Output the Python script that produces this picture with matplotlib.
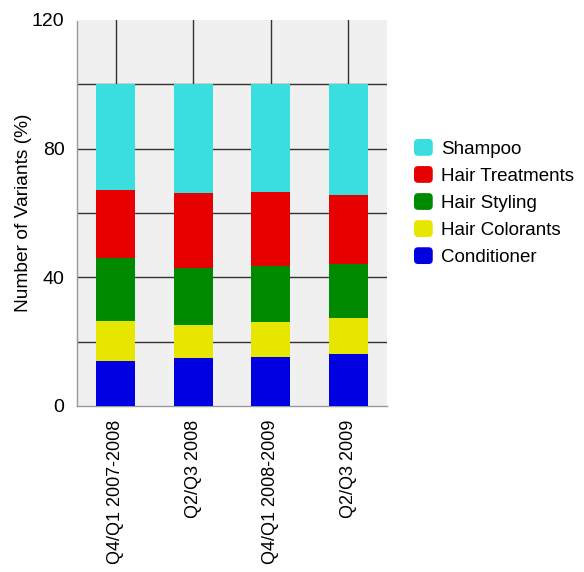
import matplotlib
matplotlib.use("Agg")
import matplotlib.pyplot as plt
from matplotlib.patches import FancyBboxPatch, Patch
from matplotlib.legend_handler import HandlerPatch
import numpy as np

plt.rcParams['font.family'] = ['Liberation Sans', 'DejaVu Sans']

periods = ["Q4/Q1 2007-2008", "Q2/Q3 2008", "Q4/Q1 2008-2009", "Q2/Q3 2009"]

# Share of variants per category (%), stacked bottom to top
conditioner = [14.0, 15.0, 15.1, 16.2]
hair_colorants = [12.4, 10.2, 10.9, 11.2]
hair_styling = [19.7, 17.6, 17.6, 16.7]
hair_treatments = [21.0, 23.3, 23.0, 21.5]
shampoo = [32.9, 33.9, 33.4, 34.4]

series = [
    ("Conditioner", conditioner, "#0000e0"),
    ("Hair Colorants", hair_colorants, "#e6e600"),
    ("Hair Styling", hair_styling, "#008a00"),
    ("Hair Treatments", hair_treatments, "#e60000"),
    ("Shampoo", shampoo, "#3adede"),
]

fig = plt.figure(figsize=(5.84, 5.72), dpi=100)
ax = fig.add_axes([77 / 584, 1 - 406 / 572, 310 / 584, 386 / 572])
ax.set_facecolor("#f0f0f0")

x = np.arange(len(periods))
bottom = np.zeros(len(periods))
for name, vals, color in series:
    ax.bar(x, vals, width=0.5, bottom=bottom, color=color, label=name,
           linewidth=0, zorder=3)
    bottom += np.array(vals)

ax.set_xlim(-0.5, len(periods) - 0.5)
ax.set_ylim(0, 120)
ax.set_yticks([0, 40, 80, 120])
ax.set_yticks([20, 60, 100], minor=True)
ax.set_xticks(x)
ax.set_xticklabels(periods, rotation=90, fontsize=13)
ax.tick_params(axis="y", which="both", length=0, pad=9, labelsize=14)
ax.tick_params(axis="x", length=0, pad=10)

ax.set_axisbelow(True)
ax.yaxis.grid(True, which="both", color="#333333", linewidth=1.0)
ax.xaxis.grid(True, color="#333333", linewidth=1.0)
ax.get_ygridlines()[-1].set_visible(False)
ax.get_ygridlines()[0].set_visible(False)

for side in ("top", "right"):
    ax.spines[side].set_visible(False)
ax.spines["left"].set_color("#999999")
ax.spines["left"].set_linestyle((0, (1, 1)))
ax.spines["left"].set_linewidth(1.0)
ax.spines["bottom"].set_color("#999999")
ax.spines["bottom"].set_linewidth(1.0)

ax.set_ylabel("Number of Variants (%)", fontsize=13.8, labelpad=0)


class RoundedHandler(HandlerPatch):
    def create_artists(self, legend, orig_handle, xdescent, ydescent,
                       width, height, fontsize, trans):
        p = FancyBboxPatch((-xdescent + 1.5, -ydescent + 1.5), width - 3, height - 3,
                           boxstyle="round,pad=1.5,rounding_size=3",
                           facecolor=orig_handle.get_facecolor(),
                           edgecolor="none", transform=trans)
        return [p]


handles = [Patch(facecolor=c, label=n) for n, _, c in reversed(series)]
fig.legend(handles=handles, loc="upper left",
           bbox_to_anchor=(414 / 584, 1 - 139 / 572),
           frameon=False, fontsize=13.5, handlelength=1.0, handleheight=1.0,
           handletextpad=0.42, labelspacing=0.44, borderpad=0, borderaxespad=0,
           handler_map={Patch: RoundedHandler()})

fig.savefig("out.png", dpi=100)
